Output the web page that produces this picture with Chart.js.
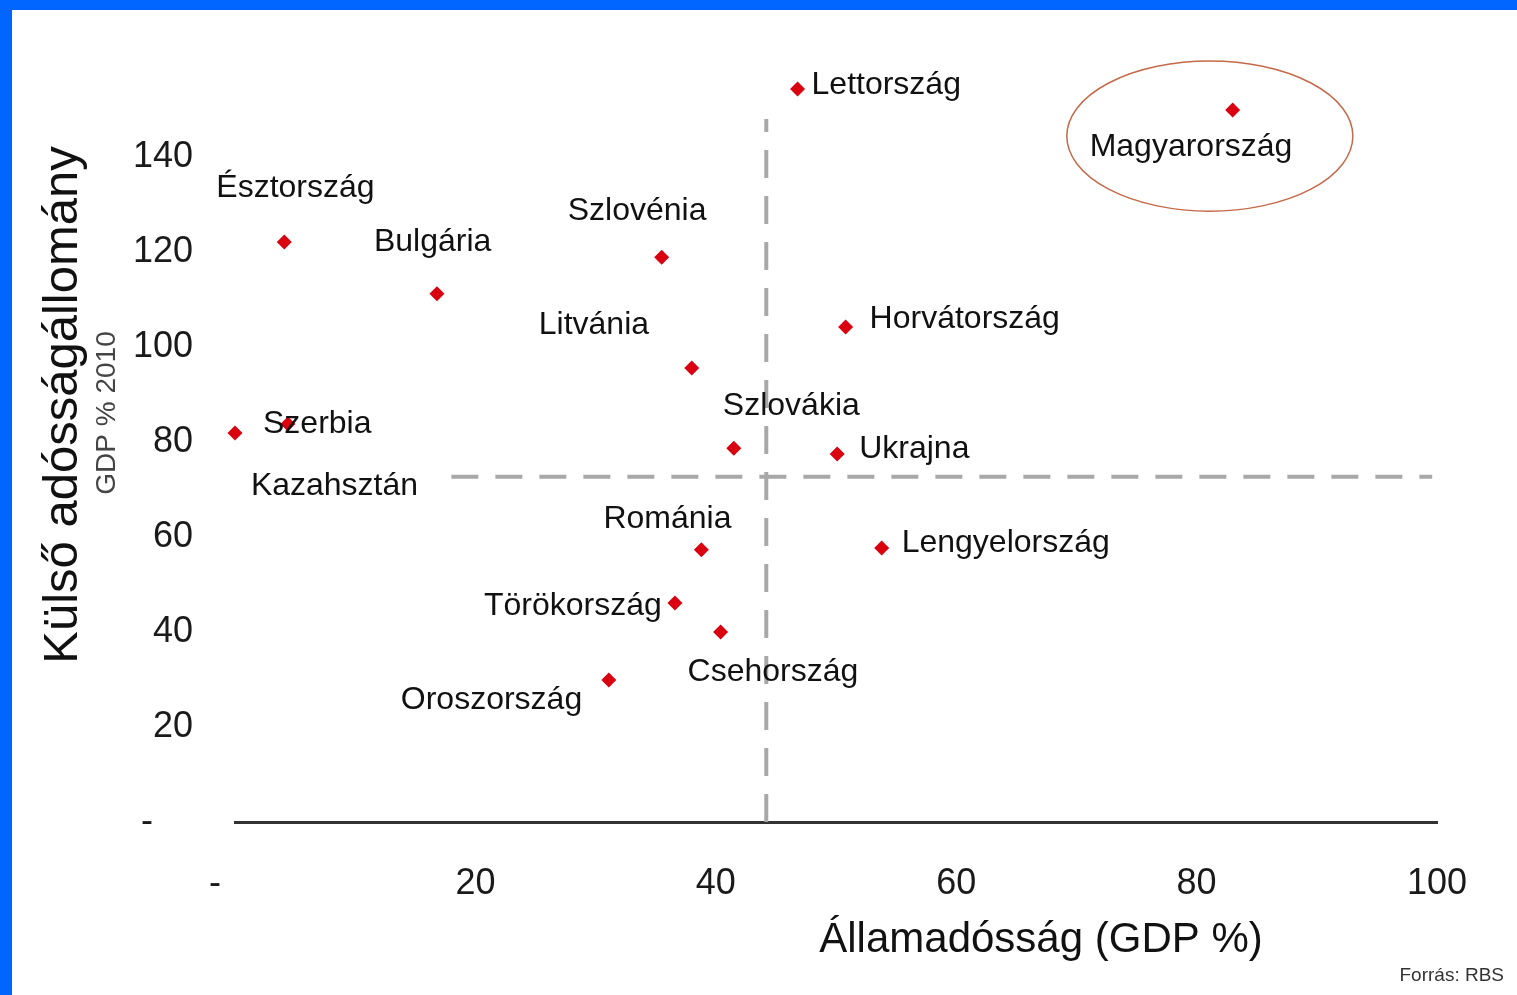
<!DOCTYPE html>
<html>
<head>
<meta charset="utf-8">
<script src="https://cdn.jsdelivr.net/npm/chart.js@4.4.1/dist/chart.umd.min.js"></script>
<style>
  html, body { margin: 0; padding: 0; background: #0066ff; width: 1517px; height: 995px; overflow: hidden; }
  #wrap { position: absolute; left: 12px; top: 10px; width: 1505px; height: 985px; background: #ffffff; }
  canvas { display: block; }
</style>
</head>
<body>
<div id="wrap"><canvas id="c" width="1505" height="985"></canvas></div>
<script>
// ---- data ----
const countries = ['Lettország','Magyarország','Észtország','Szlovénia','Bulgária','Horvátország','Litvánia','Szlovákia','Ukrajna','Szerbia','Kazahsztán','Románia','Lengyelország','Törökország','Csehország','Oroszország'];
const govDebt = [46.8, 83.0, 4.1, 35.5, 16.8, 50.8, 38.0, 41.5, 50.1, 0.0, 4.4, 38.8, 53.8, 36.6, 40.4, 31.1];
const extDebt = [154.3, 149.9, 122.1, 118.9, 111.2, 104.2, 95.6, 78.7, 77.5, 81.9, 83.8, 57.3, 57.7, 46.1, 40.0, 29.9];
const xTicks = [0, 20, 40, 60, 80, 100];
const yTicks = [0, 20, 40, 60, 80, 100, 120, 140];
const vLineX = [44.2, 44.2];
const vLineY = [0, 148];
const hLineX = [18.0, 99.6];
const hLineY = [72.7, 72.7];
const highlight = { x: 81.1, y: 144.4, rx: 11.9, ry: 15.8 };
const xTitle = 'Államadósság (GDP %)';
const yTitle = 'Külső adósságállomány';
const ySubTitle = 'GDP % 2010';
const source = 'Forrás: RBS';

// ---- label placement (px offsets from point to text left/middle) ----
const labelOffsets = [
  [14, -4], [-143, 37], [-68, -54], [-94, -46], [-63, -52], [24, -8], [-153, -43], [-11, -42],
  [22, -5], [28, -9], [-37, 62], [-98, -31], [20, -5], [-191, 3], [-33, 40], [-208, 20]
];

const FONT = '"Liberation Sans", Arial, sans-serif';

const overlay = {
  id: 'overlay',
  afterDatasetsDraw(chart) {
    const ctx = chart.ctx;
    const xs = chart.scales.x, ys = chart.scales.y;
    // highlight ellipse
    const cx = xs.getPixelForValue(highlight.x), cy = ys.getPixelForValue(highlight.y);
    const rx = Math.abs(xs.getPixelForValue(highlight.x + highlight.rx) - cx);
    const ry = Math.abs(ys.getPixelForValue(highlight.y + highlight.ry) - cy);
    ctx.save();
    ctx.beginPath();
    ctx.ellipse(cx, cy, rx, ry, 0, 0, Math.PI * 2);
    ctx.strokeStyle = '#c46a4a';
    ctx.lineWidth = 1.5;
    ctx.stroke();
    // point labels
    const meta = chart.getDatasetMeta(2);
    ctx.font = '32px ' + FONT;
    ctx.fillStyle = '#111';
    ctx.textAlign = 'left';
    ctx.textBaseline = 'middle';
    meta.data.forEach((pt, i) => {
      const o = labelOffsets[i];
      ctx.fillText(countries[i], pt.x + o[0], pt.y + o[1]);
    });
    // titles
    ctx.fillStyle = '#111';
    ctx.textAlign = 'center';
    ctx.font = '42px ' + FONT;
    ctx.fillText(xTitle, 1029, 930);
    ctx.save();
    ctx.translate(51, 395);
    ctx.rotate(-Math.PI / 2);
    ctx.font = '49px ' + FONT;
    ctx.fillText(yTitle, 0, 0);
    ctx.restore();
    ctx.save();
    ctx.translate(95, 403);
    ctx.rotate(-Math.PI / 2);
    ctx.font = '28px ' + FONT;
    ctx.fillStyle = '#444';
    ctx.fillText(ySubTitle, 0, 0);
    ctx.restore();
    ctx.font = '19px ' + FONT;
    ctx.fillStyle = '#333';
    ctx.textAlign = 'right';
    ctx.fillText(source, 1492, 966);
    ctx.restore();
  }
};

new Chart(document.getElementById('c'), {
  type: 'scatter',
  data: {
    datasets: [
      {
        type: 'line',
        data: vLineX.map((x, i) => ({ x: x, y: vLineY[i] })),
        borderColor: '#a8a8a8', borderWidth: 4, borderDash: [28, 18],
        pointRadius: 0, fill: false
      },
      {
        type: 'line',
        data: hLineX.map((x, i) => ({ x: x, y: hLineY[i] })),
        borderColor: '#a8a8a8', borderWidth: 4, borderDash: [27, 17],
        pointRadius: 0, fill: false
      },
      {
        data: govDebt.map((x, i) => ({ x: x, y: extDebt[i] })),
        pointStyle: 'rectRot', pointRadius: 7.5, pointHoverRadius: 7.5,
        backgroundColor: '#d90010', borderColor: '#d90010', borderWidth: 0,
        clip: false
      }
    ]
  },
  options: {
    responsive: false,
    animation: false,
    events: [],
    layout: { padding: { top: 52, right: 80, bottom: 0, left: 0 } },
    plugins: { legend: { display: false }, tooltip: { enabled: false } },
    scales: {
      x: {
        type: 'linear', min: 0, max: 100,
        afterBuildTicks: (s) => { s.ticks = xTicks.map(v => ({ value: v })); },
        afterFit: (s) => { s.height = 173; s.paddingLeft = 0; s.paddingRight = 0; },
        grid: { display: false, drawTicks: false },
        border: { display: true, color: '#333', width: 3 },
        ticks: {
          padding: 40, color: '#1a1a1a', font: { family: FONT, size: 36 },
          maxRotation: 0, autoSkip: false,
          callback: (v) => v === 0 ? '-    ' : String(v)
        }
      },
      y: {
        type: 'linear', min: 0, max: 160,
        afterBuildTicks: (s) => { s.ticks = yTicks.map(v => ({ value: v })); },
        afterFit: (s) => { s.width = 223; s.paddingTop = 0; s.paddingBottom = 0; },
        grid: { display: false, drawTicks: false },
        border: { display: false },
        ticks: {
          padding: 42, color: '#1a1a1a', font: { family: FONT, size: 36 },
          autoSkip: false,
          callback: (v) => v === 0 ? '-    ' : String(v)
        }
      }
    }
  },
  plugins: [overlay]
});
</script>
</body>
</html>
